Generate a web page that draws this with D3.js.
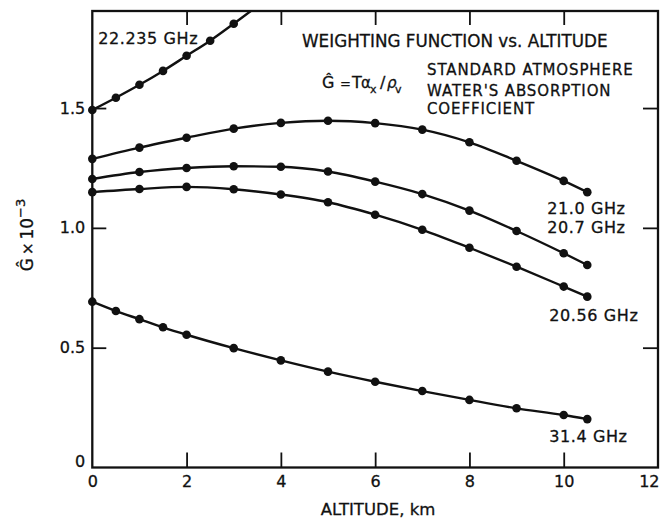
<!DOCTYPE html>
<html><head><meta charset="utf-8">
<script src="https://cdn.jsdelivr.net/npm/d3@7"></script>
<style>
body{margin:0;background:#fff;}
svg{display:block;font-family:"DejaVu Sans",sans-serif;}
svg text{stroke:#111;stroke-width:0.3px;}
</style></head><body>
<svg id="chart" width="661" height="523"></svg>
<script>
// Weighting function Ĝ (×10^-3) versus altitude (km) for several frequencies
const alt22235 = [0, 0.5, 1, 1.5, 2, 2.5, 3, 3.5];
const g22235   = [1.492, 1.543, 1.597, 1.655, 1.718, 1.781, 1.852, 1.925];

const altMid = [0, 1, 2, 3, 4, 5, 6, 7, 8, 9, 10, 10.5];
const g210   = [1.288, 1.335, 1.376, 1.414, 1.438, 1.447, 1.437, 1.410, 1.357, 1.280, 1.196, 1.149];
const g207   = [1.204, 1.233, 1.250, 1.257, 1.255, 1.235, 1.193, 1.141, 1.072, 0.987, 0.894, 0.845];
const g2056  = [1.149, 1.162, 1.171, 1.161, 1.139, 1.107, 1.055, 0.992, 0.917, 0.838, 0.755, 0.713];

const alt314 = [0, 0.5, 1, 1.5, 2, 3, 4, 5, 6, 7, 8, 9, 10, 10.5];
const g314   = [0.692, 0.653, 0.619, 0.585, 0.554, 0.498, 0.447, 0.400, 0.358, 0.319, 0.282, 0.247, 0.219, 0.202];

const seriesNames = ["22.235 GHz", "21.0 GHz", "20.7 GHz", "20.56 GHz", "31.4 GHz"];

const xTickValues = [0, 2, 4, 6, 8, 10, 12];
const yTickValues = [0, 0.5, 1.0, 1.5];
const yTickLabels = ["0", "0.5", "1.0", "1.5"];

const series = [
  { name: seriesNames[0], x: alt22235, y: g22235 },
  { name: seriesNames[1], x: altMid,   y: g210 },
  { name: seriesNames[2], x: altMid,   y: g207 },
  { name: seriesNames[3], x: altMid,   y: g2056 },
  { name: seriesNames[4], x: alt314,   y: g314 }
].map(s => ({ name: s.name, pts: s.x.map((a, i) => [a, s.y[i]]) }));

const svg = d3.select("#chart");
const pLeft = 92.3, pRight = 658, pTop = 11, pBottom = 467.5;

const x = d3.scaleLinear().domain([0, 12]).range([pLeft, pRight]);
const y = d3.scaleLinear().domain([0, 1.905]).range([pBottom, pTop]);

const ink = "#111";

// frame
svg.append("rect")
  .attr("x", pLeft).attr("y", pTop)
  .attr("width", pRight - pLeft).attr("height", pBottom - pTop)
  .attr("fill", "none").attr("stroke", ink).attr("stroke-width", 2.3);

// inward ticks on all four sides
const innerX = xTickValues.filter(v => v > 0 && v < 12);
const innerY = yTickValues.filter(v => v > 0);

const gb = svg.append("g").attr("transform", `translate(0,${pBottom})`)
  .call(d3.axisBottom(x).tickValues(xTickValues).tickSize(0).tickPadding(8).tickFormat(d3.format("d")));
gb.select(".domain").remove();
gb.selectAll("text").attr("font-size", 16).attr("fill", ink).attr("font-family", "DejaVu Sans");
gb.selectAll(".tick").filter(d => d === 12).select("text").attr("text-anchor", "end").attr("x", 1);

const ga = svg.append("g").attr("transform", `translate(0,${pBottom})`)
  .call(d3.axisBottom(x).tickValues(innerX).tickSize(-15).tickFormat(""));
ga.select(".domain").remove();
const gt = svg.append("g").attr("transform", `translate(0,${pTop})`)
  .call(d3.axisTop(x).tickValues(innerX).tickSize(-14).tickFormat(""));
gt.select(".domain").remove();

const gl = svg.append("g").attr("transform", `translate(${pLeft},0)`)
  .call(d3.axisLeft(y).tickValues(yTickValues).tickSize(0).tickPadding(7)
    .tickFormat((d, i) => yTickLabels[i]));
gl.select(".domain").remove();
gl.selectAll("text").attr("font-size", 16).attr("fill", ink).attr("font-family", "DejaVu Sans");
gl.selectAll(".tick").filter(d => d === 0).select("text").attr("dy", "-0.05em");

const gl2 = svg.append("g").attr("transform", `translate(${pLeft},0)`)
  .call(d3.axisLeft(y).tickValues(innerY).tickSize(-14).tickFormat(""));
gl2.select(".domain").remove();
const gr = svg.append("g").attr("transform", `translate(${pRight},0)`)
  .call(d3.axisRight(y).tickValues(innerY).tickSize(-15).tickFormat(""));
gr.select(".domain").remove();

svg.selectAll(".tick line").attr("stroke", ink).attr("stroke-width", 1.8);

// curves and their points, clipped at the top of the frame
svg.append("clipPath").attr("id", "clip")
  .append("rect").attr("x", 0).attr("y", pTop).attr("width", 661).attr("height", 523 - pTop);

const plot = svg.append("g").attr("clip-path", "url(#clip)");
const line = d3.line().x(d => x(d[0])).y(d => y(d[1])).curve(d3.curveMonotoneX);

plot.selectAll("path.curve").data(series).join("path")
  .attr("class", "curve")
  .attr("d", d => line(d.pts))
  .attr("fill", "none").attr("stroke", ink).attr("stroke-width", 2.4);

plot.selectAll("g.pts").data(series).join("g").attr("class", "pts")
  .selectAll("circle").data(d => d.pts).join("circle")
  .attr("cx", d => x(d[0])).attr("cy", d => y(d[1])).attr("r", 4.3).attr("fill", ink);

// frequency labels, placed relative to each curve's end point
const labelOffsets = [
  { anchor: "first", dx: 6, dy: -66 },
  { anchor: "last", dx: -40, dy: 22 },
  { anchor: "last", dx: -40, dy: -32 },
  { anchor: "last", dx: -38, dy: 24 },
  { anchor: "last", dx: -38, dy: 23 }
];
const labelPoint = (d, i) => labelOffsets[i].anchor === "first" ? d.pts[0] : d.pts[d.pts.length - 1];
svg.selectAll("text.freq").data(series).join("text")
  .attr("class", "freq")
  .attr("x", (d, i) => x(labelPoint(d, i)[0]) + labelOffsets[i].dx)
  .attr("y", (d, i) => y(labelPoint(d, i)[1]) + labelOffsets[i].dy)
  .attr("font-size", 16).attr("letter-spacing", 0.6).attr("fill", ink)
  .text(d => d.name);

// annotations
svg.append("text").attr("x", 302).attr("y", 46.5).attr("font-size", 16.8).attr("fill", ink)
  .text("WEIGHTING FUNCTION vs. ALTITUDE");
const notes = ["STANDARD ATMOSPHERE", "WATER'S ABSORPTION", "COEFFICIENT"];
const noteBaselines = [75, 96, 114];
svg.selectAll("text.note").data(notes).join("text").attr("class", "note")
  .attr("x", 427).attr("y", (d, i) => noteBaselines[i])
  .attr("font-size", 15).attr("letter-spacing", 0.9).attr("fill", ink).text(d => d);

// Ĝ = Tα_x / ρ_v
const f = svg.append("text").attr("y", 88).attr("font-size", 16).attr("fill", ink);
f.append("tspan").attr("x", 322).text("Ĝ");
f.append("tspan").attr("x", 340).attr("font-size", 13).text("=");
f.append("tspan").attr("x", 352).text("T");
f.append("tspan").attr("x", 361).attr("font-size", 15).text("α");
f.append("tspan").attr("x", 370).attr("font-size", 11).attr("dy", 5).text("x");
f.append("tspan").attr("x", 380).attr("dy", -5).text("/");
f.append("tspan").attr("x", 387).attr("font-style", "italic").attr("font-size", 15).text("ρ");
f.append("tspan").attr("x", 395).attr("font-size", 11).attr("dy", 5).text("v");

// axis titles
svg.append("text").attr("x", 378).attr("y", 515).attr("text-anchor", "middle")
  .attr("font-size", 16.5).attr("fill", ink).text("ALTITUDE, km");

const yl = svg.append("text").attr("transform", "translate(33,235) rotate(-90)")
  .attr("text-anchor", "middle").attr("font-size", 17).attr("fill", ink);
yl.append("tspan").text("Ĝ");
yl.append("tspan").attr("font-size", 15).attr("dx", 3).text("×");
yl.append("tspan").attr("dx", 3).text("10");
yl.append("tspan").attr("font-size", 13).attr("dy", -8).text("−3");
</script>
</body></html>
